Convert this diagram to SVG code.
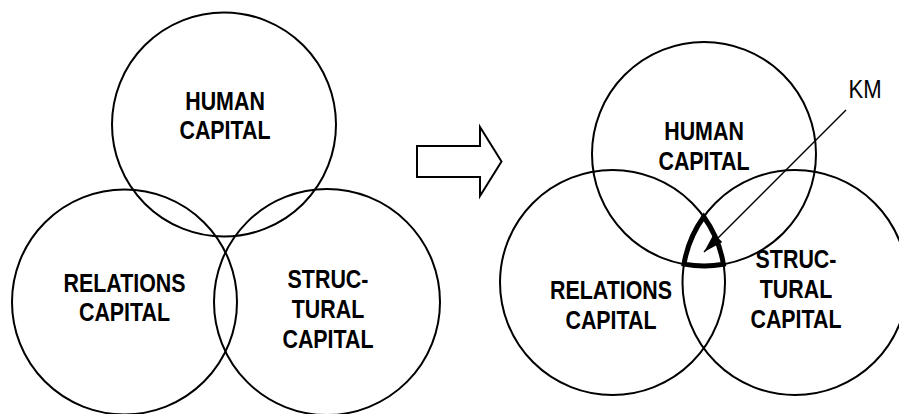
<svg xmlns="http://www.w3.org/2000/svg" width="899" height="414" viewBox="0 0 899 414">
  <style>
    .ring { fill: none; stroke: #000; stroke-width: 2; }
    .lbl { font-family: "Liberation Sans", Arial, sans-serif; font-weight: bold; font-size: 25.5px; fill: #000; text-anchor: middle; }
    .km { font-family: "Liberation Sans", Arial, sans-serif; font-size: 26px; fill: #000; text-anchor: middle; }
    .zone { fill: none; stroke: #000; stroke-width: 5; stroke-linejoin: miter; stroke-miterlimit: 10; }
    .block { fill: #fff; stroke: #000; stroke-width: 2; stroke-linejoin: miter; }
    .pointer { stroke: #000; stroke-width: 1.4; fill: none; }
  </style>
  <defs>
    <marker id="head" viewBox="0 0 20 12" refX="20" refY="6" markerWidth="20" markerHeight="12" markerUnits="userSpaceOnUse" orient="auto">
      <path d="M0,0 L20,6 L0,12 Z" fill="#000"/>
    </marker>
  </defs>

  <rect width="899" height="414" fill="#fff"/>

  <!-- Before: three separate kinds of capital -->
  <g id="before-human">
    <circle class="ring" cx="224" cy="124.5" r="112"/>
    <text class="lbl" transform="translate(225 0) scale(0.84 1)"><tspan x="0" y="110">HUMAN</tspan><tspan x="0" y="139.5">CAPITAL</tspan></text>
  </g>
  <g id="before-relations">
    <circle class="ring" cx="124.5" cy="302" r="112.5"/>
    <text class="lbl" transform="translate(124.5 0) scale(0.84 1)"><tspan x="0" y="291.7">RELATIONS</tspan><tspan x="0" y="320.7">CAPITAL</tspan></text>
  </g>
  <g id="before-structural">
    <circle class="ring" cx="327" cy="302" r="113"/>
    <text class="lbl" transform="translate(328 0) scale(0.84 1)"><tspan x="0" y="288.3">STRUC-</tspan><tspan x="0" y="318.3">TURAL</tspan><tspan x="0" y="348.3">CAPITAL</tspan></text>
  </g>

  <!-- After: overlapping capitals with KM at the common core -->
  <g id="after-human">
    <circle class="ring" cx="704" cy="154" r="112"/>
    <text class="lbl" transform="translate(704 0) scale(0.84 1)"><tspan x="0" y="140">HUMAN</tspan><tspan x="0" y="170">CAPITAL</tspan></text>
  </g>
  <g id="after-relations">
    <circle class="ring" cx="612.5" cy="282.5" r="112.5"/>
    <text class="lbl" transform="translate(611 0) scale(0.84 1)"><tspan x="0" y="299.5">RELATIONS</tspan><tspan x="0" y="329">CAPITAL</tspan></text>
  </g>
  <g id="after-structural">
    <circle class="ring" cx="795" cy="282.5" r="112.5"/>
    <text class="lbl" transform="translate(796 0) scale(0.84 1)"><tspan x="0" y="268.5">STRUC-</tspan><tspan x="0" y="298.5">TURAL</tspan><tspan x="0" y="328.5">CAPITAL</tspan></text>
  </g>
  <g id="km-core">
    <path class="zone" d="M703.75,216.7 A112.5,112.5 0 0 0 684,264.1 A112,112 0 0 0 723.4,264.3 A112.5,112.5 0 0 0 703.75,216.7 Z"/>
  </g>
  <g id="km-label">
    <text class="km" transform="translate(865 0) scale(0.85 1)" x="0" y="98.5">KM</text>
  </g>

  <!-- Connectors -->
  <g id="connectors">
    <polygon class="block" points="417,146 480,146 480,127 501.5,161.5 480,196 480,177 417,177"/>
    <line class="pointer" x1="846" y1="110" x2="704" y2="252" marker-end="url(#head)"/>
  </g>
</svg>
